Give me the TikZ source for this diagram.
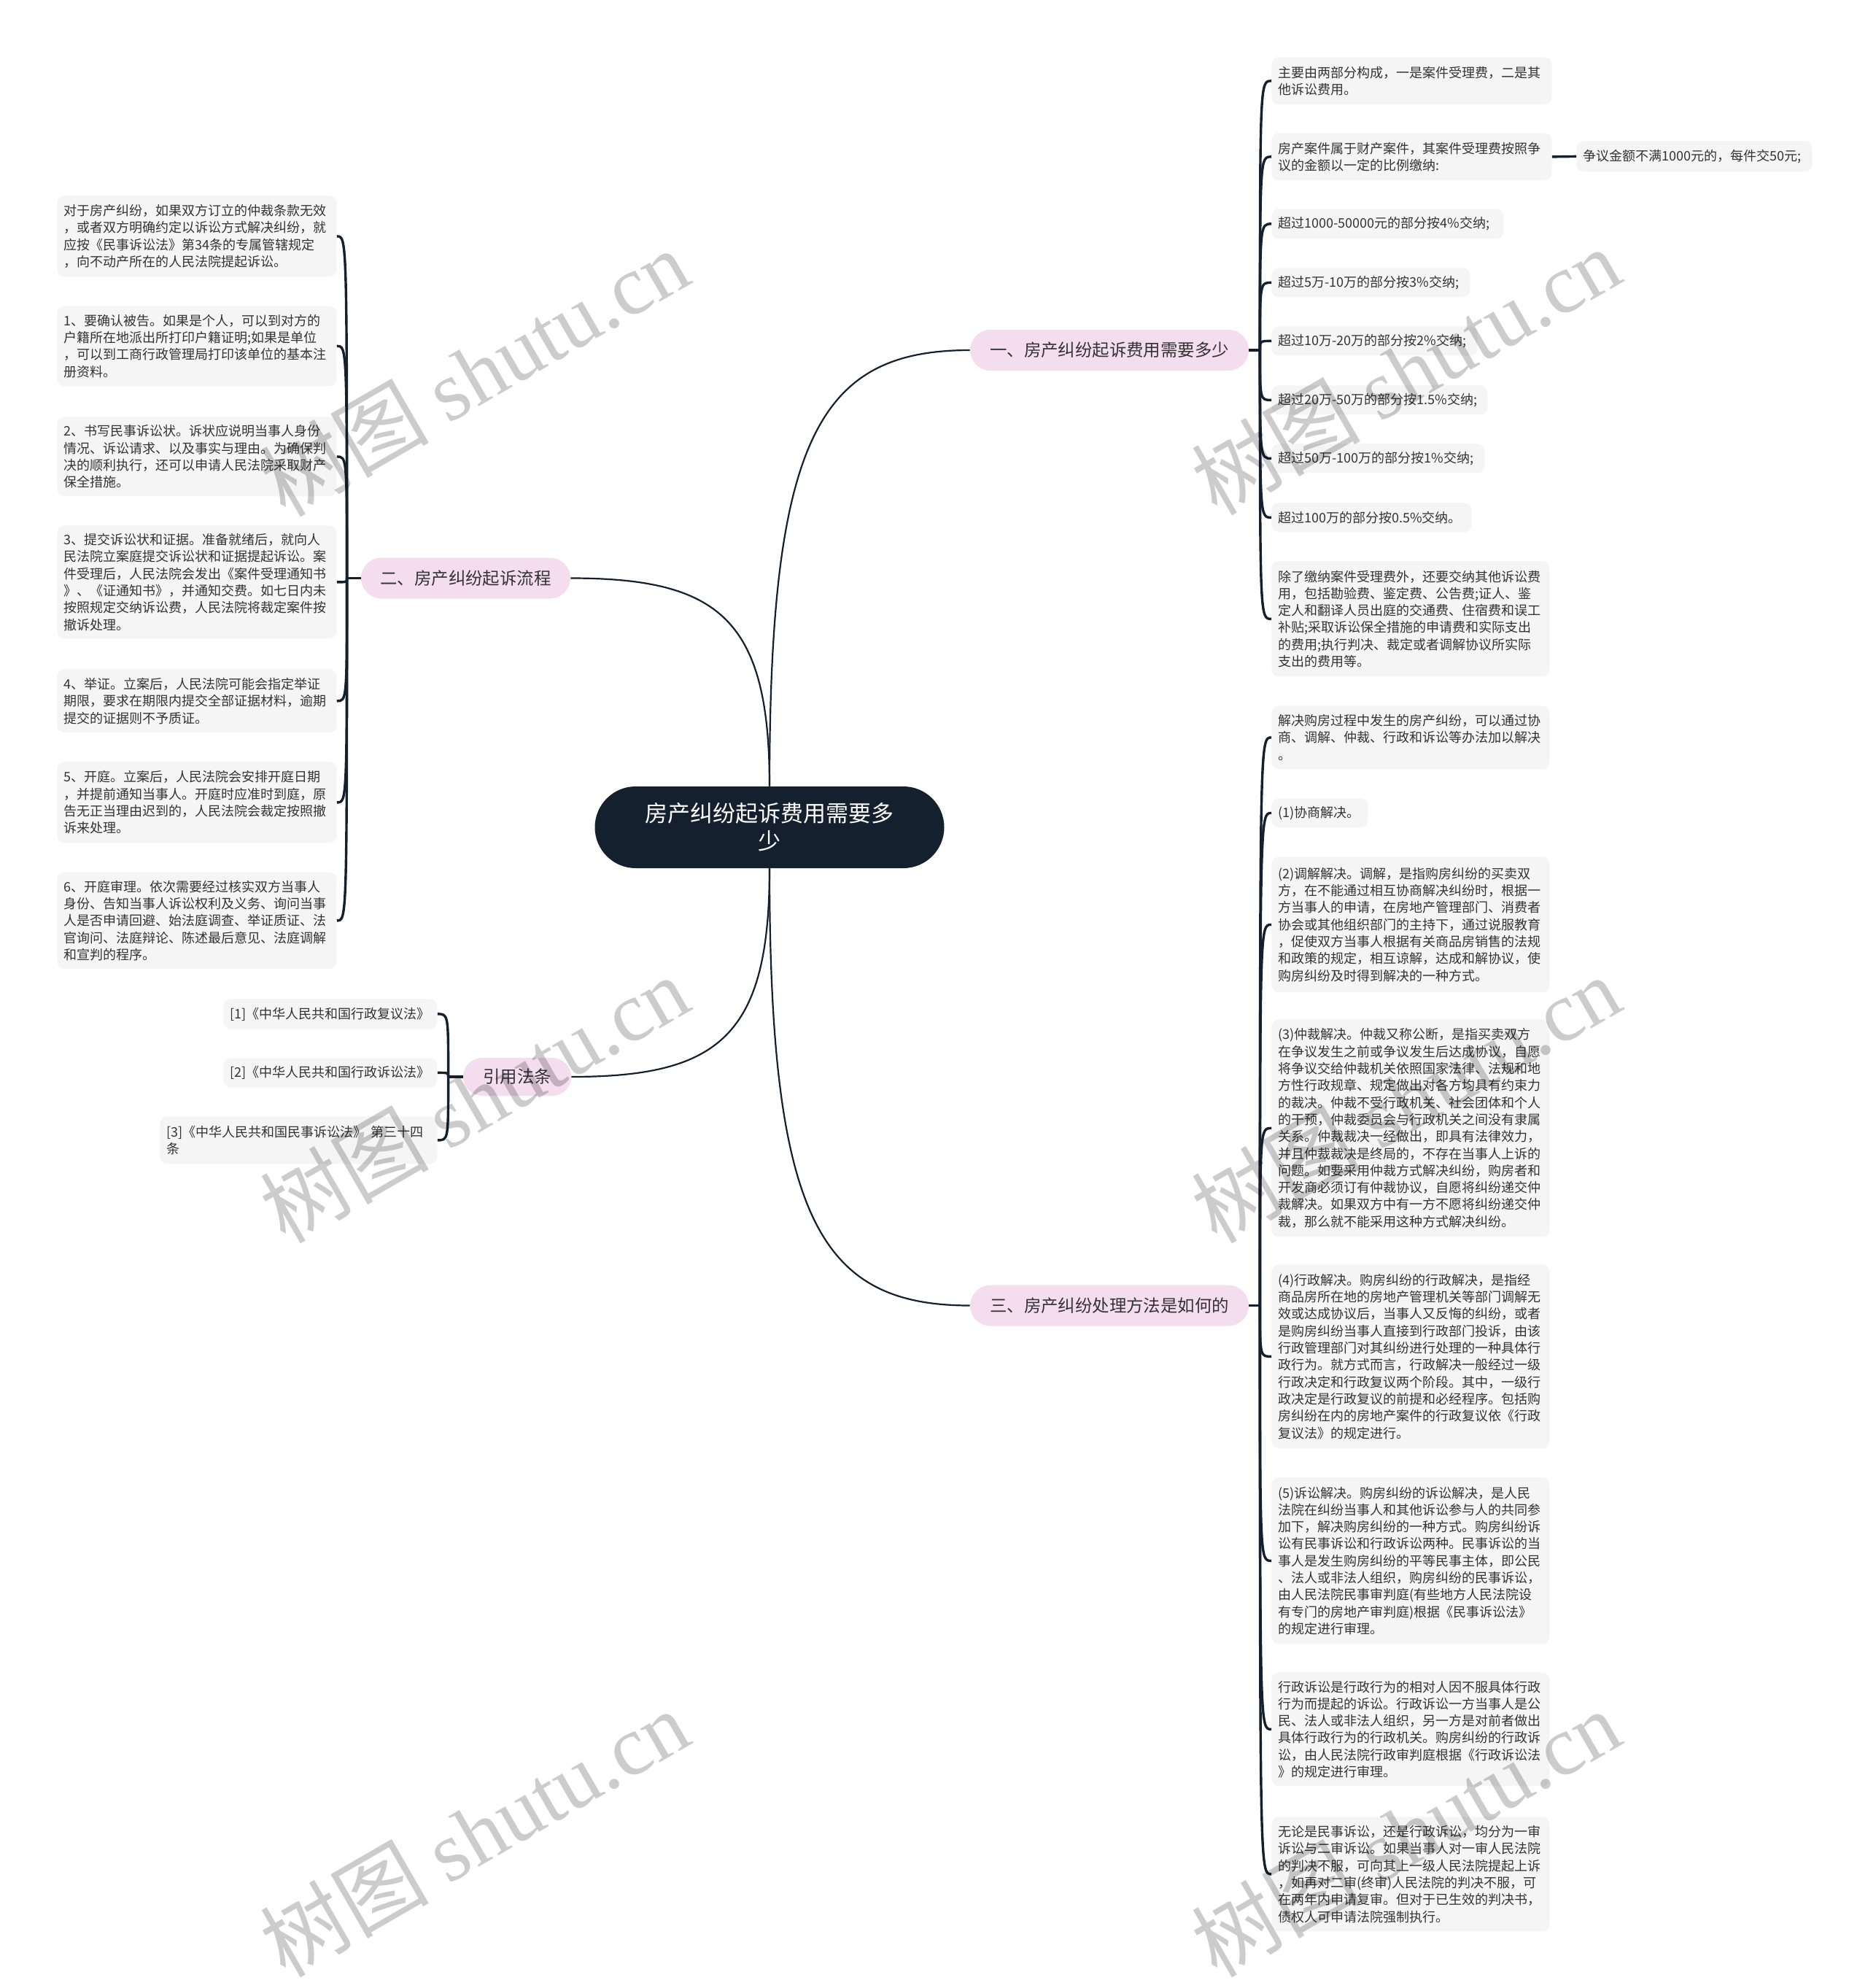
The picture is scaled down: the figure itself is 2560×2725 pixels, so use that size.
\documentclass[tikz,border=0pt]{standalone}
\usepackage{fontspec}
\setmainfont{Noto Sans CJK SC}
\newfontfamily\wmlatin{Liberation Serif}
\usetikzlibrary{calc}
\definecolor{leafbg}{HTML}{F5F5F5}
\definecolor{pinkbg}{HTML}{F4DDEF}
\definecolor{darkbg}{HTML}{15202E}
\definecolor{linec}{HTML}{15202E}
\definecolor{txt}{HTML}{333333}
\begin{document}
\begin{tikzpicture}[x=0.5pt,y=-0.5pt,
  leaf/.style={fill=leafbg, rounded corners=5pt, inner xsep=4.5pt, inner ysep=1pt, align=left, text=txt, font=\fontsize{9pt}{11.65pt}\selectfont, anchor=north west},
  branch/.style={fill=pinkbg, rounded corners=14pt, minimum height=28pt, inner sep=0pt, text=txt, font=\fontsize{11.7pt}{14pt}\selectfont},
  central/.style={fill=darkbg, rounded corners=28pt, minimum width=239.5pt, minimum height=56pt, inner sep=0pt, text=white, align=center, font=\fontsize{15.5pt}{19pt}\selectfont},
  mainline/.style={draw=linec, line width=1.1pt},
  brline/.style={draw=linec, line width=1.7pt},
  wm/.style={text=black, text opacity=0.2, font=\fontsize{58pt}{66pt}\selectfont, rotate=30}
]
\fill[white] (0,0) rectangle (2560,2725);
\useasboundingbox (0,0) rectangle (2560,2725);

% central and branches
\node[central] (c) at (1055,1134) {房产纠纷起诉费用需要多\\少};
\node[branch, minimum width=191pt] (bA) at (1521,480) {一、房产纠纷起诉费用需要多少};
\node[branch, minimum width=143.5pt] (bB) at (638.5,792.5) {二、房产纠纷起诉流程};
\node[branch, minimum width=74pt, minimum height=26pt, rounded corners=13pt] (bC) at (709,1476) {引用法条};
\node[branch, minimum width=191pt] (bD) at (1521,1789.5) {三、房产纠纷处理方法是如何的};

% branch 1 leaves
\node[leaf, text width=183pt, minimum height=32.5pt] (r1) at (1743,78) {主要由两部分构成，一是案件受理费，二是其\\他诉讼费用。};
\node[leaf, text width=183pt, minimum height=32.5pt] (r2) at (1743,182) {房产案件属于财产案件，其案件受理费按照争\\议的金额以一定的比例缴纳:};
\node[leaf, text width=152.5pt, minimum height=21pt] (rs) at (2161,193) {争议金额不满1000元的，每件交50元;};
\node[leaf, text width=150pt, minimum height=20.5pt] (r3) at (1743,286) {超过1000-50000元的部分按4\%交纳;};
\node[leaf, text width=127pt, minimum height=20pt] (r4) at (1743,367) {超过5万-10万的部分按3\%交纳;};
\node[leaf, text width=132pt, minimum height=20pt] (r5) at (1743,447) {超过10万-20万的部分按2\%交纳;};
\node[leaf, text width=139pt, minimum height=20pt] (r6) at (1743,528) {超过20万-50万的部分按1.5\%交纳;};
\node[leaf, text width=137pt, minimum height=20pt] (r7) at (1743,608) {超过50万-100万的部分按1\%交纳;};
\node[leaf, text width=128pt, minimum height=20pt] (r8) at (1743,689) {超过100万的部分按0.5\%交纳。};
\node[leaf, text width=181.5pt, minimum height=79pt] (r9) at (1743,769) {除了缴纳案件受理费外，还要交纳其他诉讼费\\用，包括勘验费、鉴定费、公告费;证人、鉴\\定人和翻译人员出庭的交通费、住宿费和误工\\补贴;采取诉讼保全措施的申请费和实际支出\\的费用;执行判决、裁定或者调解协议所实际\\支出的费用等。};

% branch 3 leaves
\node[leaf, text width=181.5pt, minimum height=43.5pt] (t1) at (1743,967) {解决购房过程中发生的房产纠纷，可以通过协\\商、调解、仲裁、行政和诉讼等办法加以解决\\。};
\node[leaf, text width=57pt, minimum height=20pt] (t2) at (1743,1094) {(1)协商解决。};
\node[leaf, text width=181.5pt, minimum height=93pt] (t3) at (1743,1174) {(2)调解解决。调解，是指购房纠纷的买卖双\\方，在不能通过相互协商解决纠纷时，根据一\\方当事人的申请，在房地产管理部门、消费者\\协会或其他组织部门的主持下，通过说服教育\\，促使双方当事人根据有关商品房销售的法规\\和政策的规定，相互谅解，达成和解协议，使\\购房纠纷及时得到解决的一种方式。};
\node[leaf, text width=181.5pt, minimum height=149pt] (t4) at (1743,1397) {(3)仲裁解决。仲裁又称公断，是指买卖双方\\在争议发生之前或争议发生后达成协议，自愿\\将争议交给仲裁机关依照国家法律、法规和地\\方性行政规章、规定做出对各方均具有约束力\\的裁决。仲裁不受行政机关、社会团体和个人\\的干预，仲裁委员会与行政机关之间没有隶属\\关系。仲裁裁决一经做出，即具有法律效力，\\并且仲裁裁决是终局的，不存在当事人上诉的\\问题。如要采用仲裁方式解决纠纷，购房者和\\开发商必须订有仲裁协议，自愿将纠纷递交仲\\裁解决。如果双方中有一方不愿将纠纷递交仲\\裁，那么就不能采用这种方式解决纠纷。};
\node[leaf, text width=181.5pt, minimum height=126pt] (t5) at (1743,1733) {(4)行政解决。购房纠纷的行政解决，是指经\\商品房所在地的房地产管理机关等部门调解无\\效或达成协议后，当事人又反悔的纠纷，或者\\是购房纠纷当事人直接到行政部门投诉，由该\\行政管理部门对其纠纷进行处理的一种具体行\\政行为。就方式而言，行政解决一般经过一级\\行政决定和行政复议两个阶段。其中，一级行\\政决定是行政复议的前提和必经程序。包括购\\房纠纷在内的房地产案件的行政复议依《行政\\复议法》的规定进行。};
\node[leaf, text width=181.5pt, minimum height=114pt] (t6) at (1743,2025) {(5)诉讼解决。购房纠纷的诉讼解决，是人民\\法院在纠纷当事人和其他诉讼参与人的共同参\\加下，解决购房纠纷的一种方式。购房纠纷诉\\讼有民事诉讼和行政诉讼两种。民事诉讼的当\\事人是发生购房纠纷的平等民事主体，即公民\\、法人或非法人组织，购房纠纷的民事诉讼，\\由人民法院民事审判庭(有些地方人民法院设\\有专门的房地产审判庭)根据《民事诉讼法》\\的规定进行审理。};
\node[leaf, text width=181.5pt, minimum height=78pt] (t7) at (1743,2292) {行政诉讼是行政行为的相对人因不服具体行政\\行为而提起的诉讼。行政诉讼一方当事人是公\\民、法人或非法人组织，另一方是对前者做出\\具体行政行为的行政机关。购房纠纷的行政诉\\讼，由人民法院行政审判庭根据《行政诉讼法\\》的规定进行审理。};
\node[leaf, text width=181.5pt, minimum height=78.5pt] (t8) at (1743,2490) {无论是民事诉讼，还是行政诉讼，均分为一审\\诉讼与二审诉讼。如果当事人对一审人民法院\\的判决不服，可向其上一级人民法院提起上诉\\，如再对二审(终审)人民法院的判决不服，可\\在两年内申请复审。但对于已生效的判决书，\\债权人可申请法院强制执行。};

% branch 2 leaves (left)
\node[leaf, text width=182.5pt, minimum height=55.5pt] (l1) at (78,268) {对于房产纠纷，如果双方订立的仲裁条款无效\\，或者双方明确约定以诉讼方式解决纠纷，就\\应按《民事诉讼法》第34条的专属管辖规定\\，向不动产所在的人民法院提起诉讼。};
\node[leaf, text width=182.5pt, minimum height=55pt] (l2) at (78,419) {1、要确认被告。如果是个人，可以到对方的\\户籍所在地派出所打印户籍证明;如果是单位\\，可以到工商行政管理局打印该单位的基本注\\册资料。};
\node[leaf, text width=182.5pt, minimum height=54.5pt] (l3) at (78,571) {2、书写民事诉讼状。诉状应说明当事人身份\\情况、诉讼请求、以及事实与理由。为确保判\\决的顺利执行，还可以申请人民法院采取财产\\保全措施。};
\node[leaf, text width=182.5pt, minimum height=77.5pt] (l4) at (78,720) {3、提交诉讼状和证据。准备就绪后，就向人\\民法院立案庭提交诉讼状和证据提起诉讼。案\\件受理后，人民法院会发出《案件受理通知书\\》、《证通知书》，并通知交费。如七日内未\\按照规定交纳诉讼费，人民法院将裁定案件按\\撤诉处理。};
\node[leaf, text width=182.5pt, minimum height=43.5pt] (l5) at (78,917) {4、举证。立案后，人民法院可能会指定举证\\期限，要求在期限内提交全部证据材料，逾期\\提交的证据则不予质证。};
\node[leaf, text width=182.5pt, minimum height=55.5pt] (l6) at (78,1044) {5、开庭。立案后，人民法院会安排开庭日期\\，并提前通知当事人。开庭时应准时到庭，原\\告无正当理由迟到的，人民法院会裁定按照撤\\诉来处理。};
\node[leaf, text width=182.5pt, minimum height=66.5pt] (l7) at (78,1195) {6、开庭审理。依次需要经过核实双方当事人\\身份、告知当事人诉讼权利及义务、询问当事\\人是否申请回避、始法庭调查、举证质证、法\\官询问、法庭辩论、陈述最后意见、法庭调解\\和宣判的程序。};

% legal leaves
\node[leaf, text width=137.5pt, minimum height=20.5pt] (g1) at (306,1369) {[1]《中华人民共和国行政复议法》};
\node[leaf, text width=137.5pt, minimum height=20pt] (g2) at (306,1450) {[2]《中华人民共和国行政诉讼法》};
\node[leaf, text width=181pt, minimum height=32.5pt] (g3) at (219,1530) {[3]《中华人民共和国民事诉讼法》 第三十四\\条};

% main connectors
\coordinate (kA) at (c.north |- bA.west);
\coordinate (kB) at (c.north |- bB.east);
\coordinate (kC) at (c.south |- bC.east);
\coordinate (kD) at (c.south |- bD.west);
\draw[mainline] (c.north) .. controls ($(c.north)!0.8!(kA)$) and ($(kA)!0.25!(bA.west)$) .. (bA.west);
\draw[mainline] (c.north) .. controls ($(c.north)!0.8!(kB)$) and ($(kB)!0.25!(bB.east)$) .. (bB.east);
\draw[mainline] (c.south) .. controls ($(c.south)!0.8!(kC)$) and ($(kC)!0.25!(bC.east)$) .. (bC.east);
\draw[mainline] (c.south) .. controls ($(c.south)!0.8!(kD)$) and ($(kD)!0.25!(bD.west)$) .. (bD.west);

% leaf connectors
\coordinate (hA) at ($(bA.east)+(15,0)$);
\draw[brline] (bA.east) -- (hA);
\foreach \n in {r1,r2,r3,r4,r5,r6,r7,r8,r9}
  \draw[brline] (hA) .. controls (hA |- \n.west) .. (\n.west);
\draw[brline] (r2.east) -- (rs.west);

\coordinate (hD) at ($(bD.east)+(15,0)$);
\draw[brline] (bD.east) -- (hD);
\foreach \n in {t1,t2,t3,t4,t5,t6,t7,t8}
  \draw[brline] (hD) .. controls (hD |- \n.west) .. (\n.west);

\coordinate (hB) at ($(bB.west)+(-19,0)$);
\draw[brline] (bB.west) -- (hB);
\foreach \n in {l1,l2,l3,l4,l5,l6,l7}
  \draw[brline] (hB) .. controls (hB |- \n.east) .. (\n.east);

\coordinate (hC) at ($(bC.west)+(-20,0)$);
\draw[brline] (bC.west) -- (hC);
\foreach \n in {g1,g2,g3}
  \draw[brline] (hC) .. controls (hC |- \n.east) .. (\n.east);

% watermarks
\node[wm] (wm1) at (650,510) {树图 {\wmlatin shutu.cn}};
\node[wm] (wm2) at (1927,508) {树图 {\wmlatin shutu.cn}};
\node[wm] (wm3) at (650,1506) {树图 {\wmlatin shutu.cn}};
\node[wm] (wm4) at (1927,1506) {树图 {\wmlatin shutu.cn}};
\node[wm] (wm5) at (650,2512) {树图 {\wmlatin shutu.cn}};
\node[wm] (wm6) at (1927,2512) {树图 {\wmlatin shutu.cn}};
\end{tikzpicture}
\end{document}
